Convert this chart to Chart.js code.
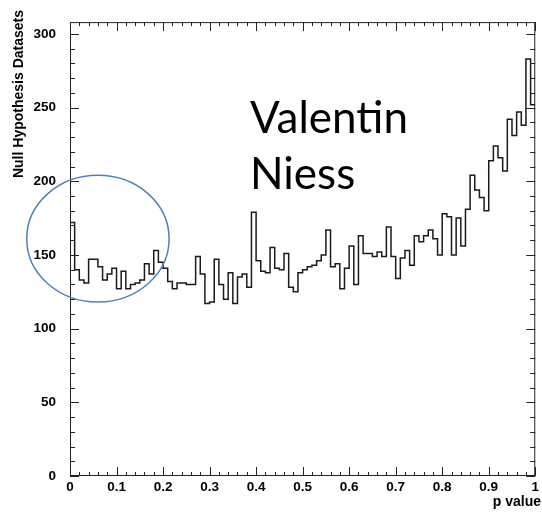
<!DOCTYPE html>
<html>
<head>
<meta charset="utf-8">
<script src="https://cdn.jsdelivr.net/npm/chart.js@4.4.0/dist/chart.umd.min.js"></script>
<style>
  html, body { margin: 0; padding: 0; background: #fff; }
  #wrap { width: 542px; height: 517px; }
</style>
</head>
<body>
<div id="wrap"><canvas id="pvalChart" width="542" height="517"></canvas></div>
<script>
// 100 bins of width 0.01 between p = 0 and p = 1
const binWidth = 0.01
const counts = [
    172, 140, 133, 131, 147, 147, 142, 133, 137, 141,
    127, 139, 127, 130, 131, 133, 144, 137, 153, 145,
    141, 132, 127, 131, 131, 130, 130, 149, 137, 117,
    118, 147, 130, 120, 138, 117, 135, 137, 128, 179,
    146, 139, 138, 155, 141, 140, 151, 128, 125, 138,
    140, 142, 143, 146, 150, 167, 142, 144, 127, 141,
    156, 130, 163, 151, 151, 149, 152, 149, 169, 149,
    134, 148, 153, 143, 163, 159, 163, 167, 161, 150,
    178, 176, 150, 175, 156, 181, 204, 194, 189, 180,
    214, 224, 216, 207, 242, 231, 247, 238, 283, 252
]
const xTickLabels = ["0", "0.1", "0.2", "0.3", "0.4", "0.5", "0.6", "0.7", "0.8", "0.9", "1"]
const yTickValues = [0, 50, 100, 150, 200, 250, 300]
const xTitle = "p value"
const yTitle = "Null Hypothesis Datasets"
const noteLines = ["Valentin", "Niess"]

document.addEventListener("DOMContentLoaded", () => {

    // left edge of each bin, plus the closing point at p = 1
    let points = counts.map((c, i) => ({ x: i * binWidth, y: c }))
    points.push({ x: counts.length * binWidth, y: counts[counts.length - 1] })

    const sans = "'Liberation Sans', Arial, sans-serif"
    const labelFont = { family: sans, size: 13.5, weight: "bold" }

    // ROOT style frame with inward ticks, axis titles, the circle and the big note
    const decorations = {
        id: "decorations",
        afterDatasetsDraw(chart) {
            const { ctx, chartArea: a, scales: { x, y } } = chart
            ctx.save()
            ctx.strokeStyle = "#222"
            ctx.lineWidth = 1
            ctx.strokeRect(a.left + 0.5, a.top + 0.5, a.right - a.left - 1, a.bottom - a.top - 1)

            ctx.beginPath()
            for (let v = 0; v <= y.max; v += 10) {
                let py = Math.round(y.getPixelForValue(v)) + 0.5
                let len = v % 50 == 0 ? 9 : 5
                ctx.moveTo(a.left, py); ctx.lineTo(a.left + len, py)
                ctx.moveTo(a.right, py); ctx.lineTo(a.right - len, py)
            }
            for (let k = 0; k <= 50; k++) {
                let px = Math.round(x.getPixelForValue(k * 0.02)) + 0.5
                let len = k % 5 == 0 ? 9 : 4
                ctx.moveTo(px, a.bottom); ctx.lineTo(px, a.bottom - len)
                ctx.moveTo(px, a.top); ctx.lineTo(px, a.top + len)
            }
            ctx.stroke()

            // blue ellipse around the low p region
            let cx = x.getPixelForValue(0.06)
            let cy = y.getPixelForValue(161)
            let rx = x.getPixelForValue(0.153) - x.getPixelForValue(0)
            let ry = y.getPixelForValue(0) - y.getPixelForValue(43)
            ctx.beginPath()
            ctx.strokeStyle = "#4f81bd"
            ctx.lineWidth = 1.5
            ctx.ellipse(cx, cy, rx, ry, 0, 0, Math.PI * 2)
            ctx.stroke()

            // note text
            ctx.fillStyle = "#000"
            ctx.font = "44px Lato, 'Open Sans', sans-serif"
            ctx.textAlign = "left"
            ctx.textBaseline = "alphabetic"
            ctx.fillText(noteLines[0], x.getPixelForValue(0.387), y.getPixelForValue(233))
            ctx.fillText(noteLines[1], x.getPixelForValue(0.387), y.getPixelForValue(195))

            // x title at the right end of the axis
            ctx.font = "bold 14px " + sans
            ctx.textAlign = "right"
            ctx.textBaseline = "middle"
            ctx.fillText(xTitle, 541, 502)

            // y title, right aligned near the top like ROOT does it
            ctx.translate(19, 10)
            ctx.rotate(-Math.PI / 2)
            ctx.fillText(yTitle, 0, 0)
            ctx.restore()
        }
    }

    const config = {
        type: "line",
        data: {
            datasets: [{
                data: points,
                stepped: "before",
                borderColor: "#1a1a1a",
                borderWidth: 1.5,
                pointRadius: 0,
                fill: false
            }]
        },
        options: {
            responsive: false,
            animation: false,
            layout: {
                autoPadding: false,
                padding: { top: 17, right: 2, left: 0, bottom: 0 }
            },
            plugins: {
                legend: { display: false },
                tooltip: { enabled: false }
            },
            scales: {
                x: {
                    type: "linear",
                    min: 0,
                    max: 1,
                    afterFit: scale => { scale.height = 41 },
                    grid: { display: false, drawTicks: false },
                    border: { display: false },
                    ticks: {
                        stepSize: 0.1,
                        autoSkip: false,
                        maxRotation: 0,
                        padding: 3,
                        color: "#000",
                        font: labelFont,
                        callback: (v, i) => xTickLabels[i]
                    }
                },
                y: {
                    min: 0,
                    max: 308,
                    afterFit: scale => { scale.width = 70 },
                    afterBuildTicks: scale => {
                        scale.ticks = yTickValues.map(v => ({ value: v }))
                    },
                    grid: { display: false, drawTicks: false },
                    border: { display: false },
                    ticks: {
                        padding: 14,
                        color: "#000",
                        font: labelFont
                    }
                }
            }
        },
        plugins: [decorations]
    }

    new Chart(document.getElementById("pvalChart"), config)
})
</script>
</body>
</html>
